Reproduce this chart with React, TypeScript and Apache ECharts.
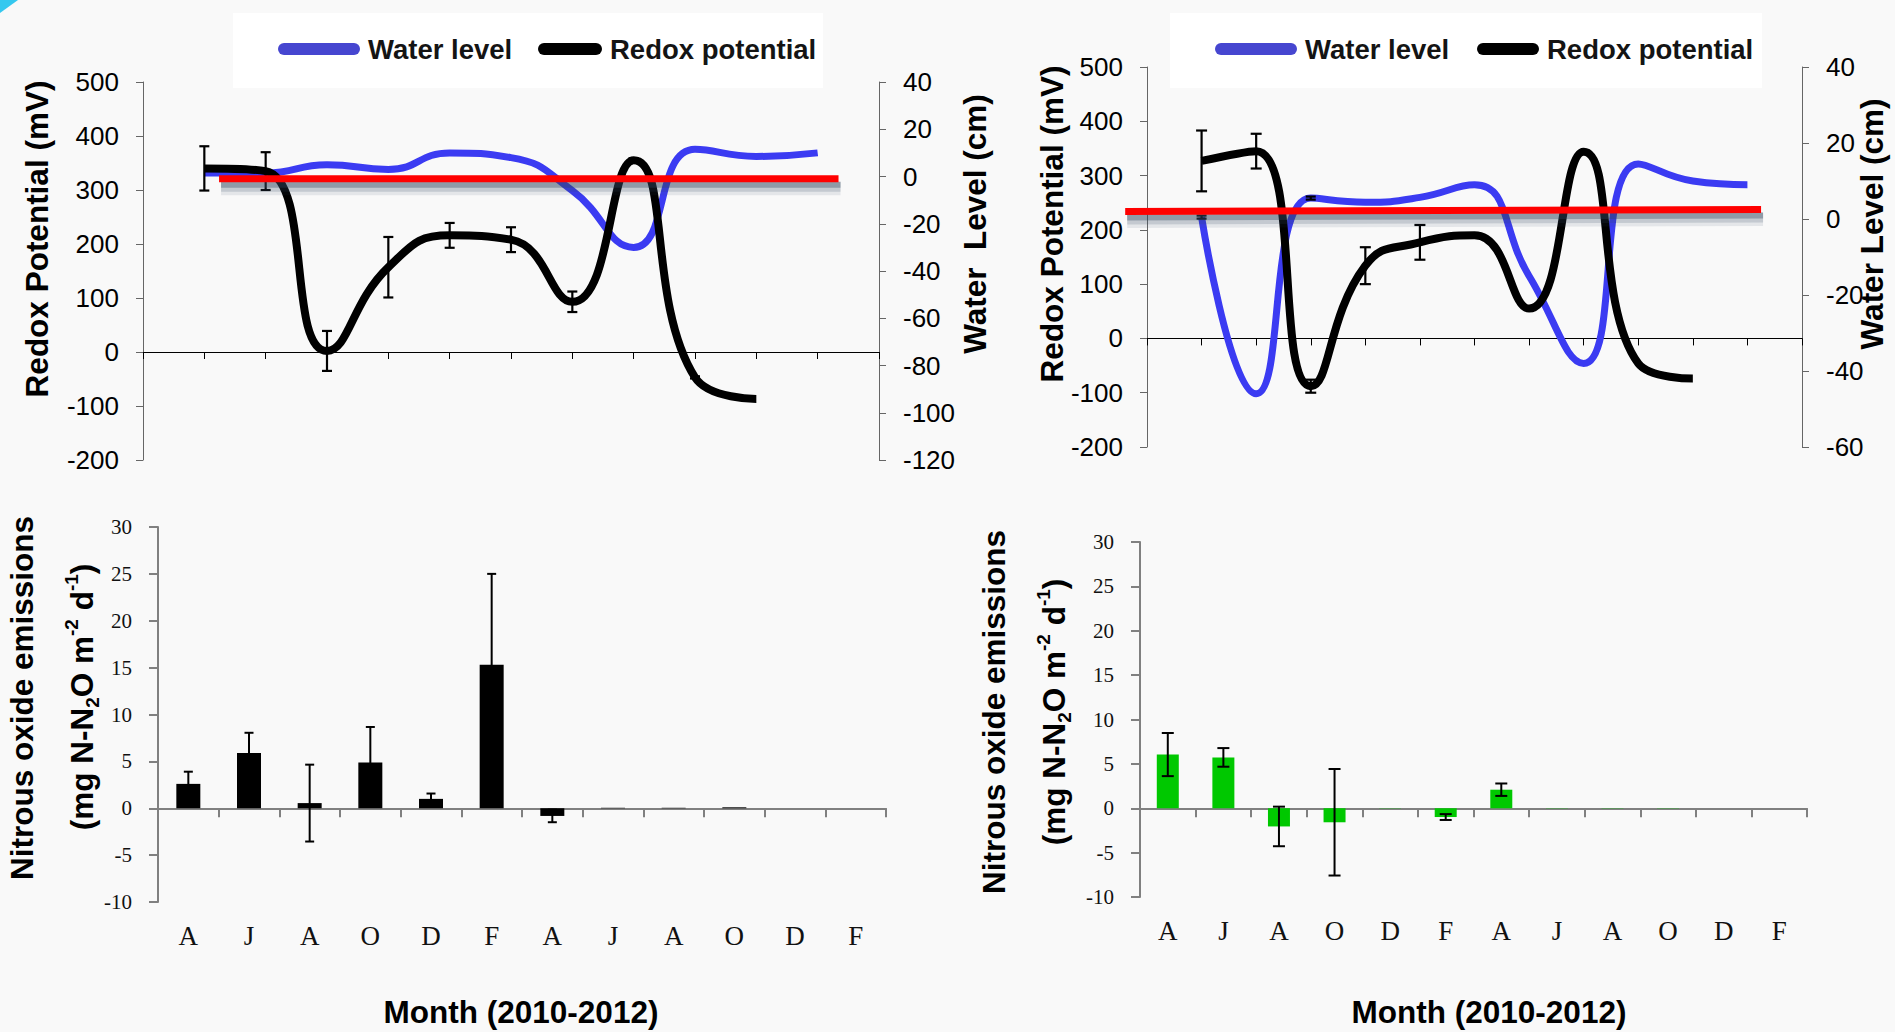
import React, { useEffect, useRef } from 'react';
import * as echarts from 'echarts';

// ---------- data ----------
const months = ['A', 'J', 'A', 'O', 'D', 'F', 'A', 'J', 'A', 'O', 'D', 'F'];

// top-left panel (positions 1..n on the month axis)
const redoxLeft = [340, 335, 2, 157, 216, 208, 93, 355, -47, -87];
const redoxLeftErr = [41, 35, 37, 56, 23, 23, 19, 4, 2, 0];
const waterLeft = [1.5, 1.5, 5, 3, 10, 8, -6, -30, 11.5, 8.5, 10];
const refLineLeft = [1.24, -1, 11.34, -1]; // x1, y1, x2, y2 (water level axis)

// top-right panel
const redoxRight = [327, 345, -88, 134, 177, 190, 55, 344, -46, -74];
const redoxRightErr = [56, 32, 12, 34, 32, 0, 0, 0, 0, 0];
const waterRight = [0.5, -46, 5.5, 4.4, 5.7, 9, -15, -38, 14.5, 10, 9];
const waterRightErr = [0.4, 0, 0.4, 0, 0, 0, 0, 0, 0, 0, 0];
const refLineRight = [-0.4, 2, 11.25, 2.5];

// bottom panels: nitrous oxide emissions
const n2oLeft = [2.6, 5.9, 0.55, 4.87, 1.0, 15.3, -0.82, 0.05, 0.05, 0.1, null, null];
const n2oLeftErr = [1.3, 2.15, 4.1, 3.8, 0.57, 9.7, 0.67, 0, 0, 0, 0, 0];
const n2oRight = [6.05, 5.73, -2.05, -1.58, 0.03, -0.99, 2.09, 0.03, 0.03, 0.03, null, null];
const n2oRightErr = [2.43, 1.05, 2.23, 6.0, 0, 0.33, 0.7, 0, 0, 0, 0, 0];

// ---------- helpers ----------
const SMOOTH = 0.5;
const toPoints = (vals: number[]) => vals.map((v, i) => [i + 1, v]);
const errPoints = (vals: (number | null)[], errs: number[], offset: number) =>
  vals
    .map((v, i) => (v == null || !errs[i] ? null : [i + offset, v - errs[i], v + errs[i]]))
    .filter((d) => d != null);

const errRender = (cap: number, width: number) => (params: any, api: any) => {
  const x = api.value(0);
  const top = api.coord([x, api.value(2)]);
  const bot = api.coord([x, api.value(1)]);
  const style = { stroke: '#000', lineWidth: width };
  return {
    type: 'group',
    children: [
      { type: 'line', shape: { x1: top[0], y1: top[1], x2: bot[0], y2: bot[1] }, style },
      { type: 'line', shape: { x1: top[0] - cap, y1: top[1], x2: top[0] + cap, y2: top[1] }, style },
      { type: 'line', shape: { x1: bot[0] - cap, y1: bot[1], x2: bot[0] + cap, y2: bot[1] }, style },
    ],
  };
};

// red reference line with a soft drop shadow underneath
const shadowLayers = [
  { dy: 10, w: 13, a: 0.1 },
  { dy: 8, w: 10, a: 0.18 },
  { dy: 6, w: 6, a: 0.36 },
];
const refRender = (params: any, api: any) => {
  const p1 = api.coord([api.value(0), api.value(1)]);
  const p2 = api.coord([api.value(2), api.value(3)]);
  const children: any[] = shadowLayers.map((s) => ({
    type: 'line',
    shape: { x1: p1[0] + 2, y1: p1[1] + s.dy, x2: p2[0] + 2, y2: p2[1] + s.dy },
    style: { stroke: `rgba(50,72,95,${s.a})`, lineWidth: s.w, lineCap: 'butt' },
  }));
  children.push({
    type: 'line',
    shape: { x1: p1[0], y1: p1[1], x2: p2[0], y2: p2[1] },
    style: { stroke: '#ff0000', lineWidth: 7, lineCap: 'butt' },
  });
  return { type: 'group', children };
};

const pill = (w: number, h: number) => {
  const r = h / 2;
  return `path://M${r} 0H${w - r}A${r} ${r} 0 0 1 ${w - r} ${h}H${r}A${r} ${r} 0 0 1 ${r} 0Z`;
};

const SANS = 'Liberation Sans, Arial, sans-serif';
const SERIF = 'Liberation Serif, Times New Roman, serif';

const topValueX = (gridIndex: number, zeroY: number) => ({
  type: 'value',
  gridIndex,
  min: 0,
  max: 12,
  interval: 1,
  axisLine: { show: true, onZero: true, onZeroAxisIndex: zeroY, lineStyle: { color: '#000', width: 1 } },
  axisTick: { show: true, length: 7, lineStyle: { color: '#000', width: 1 } },
  axisLabel: { show: false },
  splitLine: { show: false },
});

const topY = (gridIndex: number, min: number, max: number, interval: number, position: string) => ({
  type: 'value',
  gridIndex,
  min,
  max,
  interval,
  position,
  axisLine: { show: true, onZero: false, lineStyle: { color: '#666', width: 1 } },
  axisTick: { show: true, length: 7, lineStyle: { color: '#666', width: 1 } },
  axisLabel: { fontSize: 26, fontFamily: SANS, color: '#000', margin: 24 },
  splitLine: { show: false },
});

const catLineX = (gridIndex: number) => ({
  type: 'category',
  gridIndex,
  data: months,
  axisLine: { show: true, onZero: true, lineStyle: { color: '#808080', width: 2 } },
  axisTick: { show: true, length: 9, lineStyle: { color: '#808080', width: 2 } },
  axisLabel: { show: false },
  splitLine: { show: false },
});

const catLabelX = (gridIndex: number) => ({
  type: 'category',
  gridIndex,
  data: months,
  position: 'bottom',
  axisLine: { show: false, onZero: false },
  axisTick: { show: false },
  axisLabel: { fontSize: 27, fontFamily: SERIF, color: '#111', margin: 20 },
  splitLine: { show: false },
});

const barY = (gridIndex: number) => ({
  type: 'value',
  gridIndex,
  min: -10,
  max: 30,
  interval: 5,
  axisLine: { show: true, onZero: false, lineStyle: { color: '#808080', width: 2 } },
  axisTick: { show: true, length: 9, lineStyle: { color: '#808080', width: 2 } },
  axisLabel: { fontSize: 21, fontFamily: SERIF, color: '#111', margin: 26 },
  splitLine: { show: false },
});

const legendText = { fontSize: 27.5, fontWeight: 'bold', fontFamily: SANS, color: '#141414', padding: [0, 0, 0, 3] };
const legendItem = (name: string, color: string, left: number, w: number) => ({
  data: [{ name, itemStyle: { color, borderWidth: 0 } }],
  left,
  top: 35,
  padding: 0,
  itemWidth: w,
  itemHeight: 12,
  icon: pill(w, 12),
  selectedMode: false,
  textStyle: legendText,
});

const titleStyle = { fontSize: 31.5, fontWeight: 'bold', fontFamily: SANS, fill: '#000' };
const vTitle = (text: string, x: number, y: number) => ({
  type: 'text',
  x,
  y,
  rotation: Math.PI / 2,
  style: { ...titleStyle, text, align: 'center', verticalAlign: 'middle' },
});
const subSup = {
  sub: { fontSize: 19, fontWeight: 'bold', fontFamily: SANS, fill: '#000', lineHeight: 19, verticalAlign: 'bottom' },
  sup: { fontSize: 19, fontWeight: 'bold', fontFamily: SANS, fill: '#000', lineHeight: 19, verticalAlign: 'top' },
  n: { fontSize: 31.5, fontWeight: 'bold', fontFamily: SANS, fill: '#000', lineHeight: 40 },
};
const unitTitle = (x: number, y: number) => ({
  type: 'text',
  x,
  y,
  rotation: Math.PI / 2,
  style: {
    ...titleStyle,
    text: '{n|(mg N-N}{sub|2}{n|O m}{sup|-2}{n| d}{sup|-1}{n|)}',
    rich: subSup,
    align: 'center',
    verticalAlign: 'middle',
  },
});

const blue = '#3b3bf2';
const blueLegend = '#4646d0';

export default function App() {
  const ref = useRef<HTMLDivElement>(null);

  useEffect(() => {
    document.body.style.margin = '0';
    const chart = echarts.init(ref.current!, undefined, { renderer: 'svg' });

    const option: any = {
      animation: false,
      backgroundColor: '#f9f9f9',
      textStyle: { fontFamily: SANS },
      grid: [
        { left: 143, top: 82, width: 736, height: 378 },
        { left: 1147, top: 67, width: 655, height: 380 },
        { left: 158, top: 527, width: 728, height: 375 },
        { left: 1140, top: 542, width: 667, height: 355 },
      ],
      xAxis: [topValueX(0, 0), topValueX(1, 2), catLineX(2), catLabelX(2), catLineX(3), catLabelX(3)],
      yAxis: [
        topY(0, -200, 500, 100, 'left'),
        topY(0, -120, 40, 20, 'right'),
        topY(1, -200, 500, 100, 'left'),
        topY(1, -60, 40, 20, 'right'),
        barY(2),
        barY(3),
      ],
      legend: [
        legendItem('Water level', blueLegend, 278, 82),
        legendItem('Redox potential', '#000', 538, 64),
        legendItem('Water level', blueLegend, 1215, 82),
        legendItem('Redox potential', '#000', 1477, 62),
      ],
      graphic: [
        { type: 'rect', shape: { x: 233, y: 13, width: 590, height: 75 }, style: { fill: '#ffffff' }, z: -1 },
        { type: 'rect', shape: { x: 1170, y: 13, width: 592, height: 75 }, style: { fill: '#ffffff' }, z: -1 },
        { type: 'polygon', shape: { points: [[0, 0], [18, 0], [0, 13]] }, style: { fill: '#35c8ef' } },
        vTitle('Redox Potential (mV)', 37, 239),
        vTitle('Water  Level (cm)', 975, 224),
        vTitle('Redox Potential (mV)', 1052, 224),
        vTitle('Water Level (cm)', 1872, 224),
        vTitle('Nitrous oxide emissions', 22, 698),
        unitTitle(82, 697),
        vTitle('Nitrous oxide emissions', 994, 712),
        unitTitle(1054, 712),
        { type: 'text', x: 521, y: 1012, style: { ...titleStyle, text: 'Month (2010-2012)', align: 'center', verticalAlign: 'middle' } },
        { type: 'text', x: 1489, y: 1012, style: { ...titleStyle, text: 'Month (2010-2012)', align: 'center', verticalAlign: 'middle' } },
      ],
      series: [
        // top-left
        {
          name: 'Water level', type: 'line', xAxisIndex: 0, yAxisIndex: 1, data: toPoints(waterLeft),
          smooth: SMOOTH, symbol: 'none', lineStyle: { color: blue, width: 7 }, itemStyle: { color: blue }, z: 2,
        },
        {
          name: 'Redox potential', type: 'line', xAxisIndex: 0, yAxisIndex: 0, data: toPoints(redoxLeft),
          smooth: SMOOTH, symbol: 'none', lineStyle: { color: '#000', width: 8 }, itemStyle: { color: '#000' }, z: 3,
        },
        {
          type: 'custom', xAxisIndex: 0, yAxisIndex: 0, data: errPoints(redoxLeft, redoxLeftErr, 1),
          renderItem: errRender(5, 2.2), encode: { x: 0, y: [1, 2] }, z: 4, silent: true,
        },
        {
          type: 'custom', xAxisIndex: 0, yAxisIndex: 1, data: [refLineLeft], clip: false,
          renderItem: refRender, encode: { x: [0, 2], y: [1, 3] }, z: 5, silent: true,
        },
        // top-right
        {
          name: 'Water level', type: 'line', xAxisIndex: 1, yAxisIndex: 3, data: toPoints(waterRight),
          smooth: SMOOTH, symbol: 'none', lineStyle: { color: blue, width: 7 }, itemStyle: { color: blue }, z: 2,
        },
        {
          type: 'custom', xAxisIndex: 1, yAxisIndex: 3, data: errPoints(waterRight, waterRightErr, 1),
          renderItem: errRender(5, 2.2), encode: { x: 0, y: [1, 2] }, z: 4, silent: true,
        },
        {
          name: 'Redox potential', type: 'line', xAxisIndex: 1, yAxisIndex: 2, data: toPoints(redoxRight),
          smooth: SMOOTH, symbol: 'none', lineStyle: { color: '#000', width: 8 }, itemStyle: { color: '#000' }, z: 3,
        },
        {
          type: 'custom', xAxisIndex: 1, yAxisIndex: 2, data: errPoints(redoxRight, redoxRightErr, 1),
          renderItem: errRender(5.5, 2.2), encode: { x: 0, y: [1, 2] }, z: 4, silent: true,
        },
        {
          type: 'custom', xAxisIndex: 1, yAxisIndex: 3, data: [refLineRight], clip: false,
          renderItem: refRender, encode: { x: [0, 2], y: [1, 3] }, z: 5, silent: true,
        },
        // bottom-left
        {
          name: 'N2O left', type: 'bar', xAxisIndex: 2, yAxisIndex: 4, data: n2oLeft, barWidth: 24,
          itemStyle: { color: '#000' }, z: 2,
        },
        {
          type: 'custom', xAxisIndex: 2, yAxisIndex: 4, data: errPoints(n2oLeft, n2oLeftErr, 0),
          renderItem: errRender(4.5, 2), encode: { x: 0, y: [1, 2] }, z: 4, silent: true,
        },
        // bottom-right
        {
          name: 'N2O right', type: 'bar', xAxisIndex: 4, yAxisIndex: 5, data: n2oRight, barWidth: 22,
          itemStyle: { color: '#00c800' }, z: 2,
        },
        {
          type: 'custom', xAxisIndex: 4, yAxisIndex: 5, data: errPoints(n2oRight, n2oRightErr, 0),
          renderItem: errRender(6, 2), encode: { x: 0, y: [1, 2] }, z: 4, silent: true,
        },
      ],
    };

    chart.setOption(option);
    return () => chart.dispose();
  }, []);

  return (
    <div
      ref={ref}
      style={{ position: 'absolute', left: 0, top: 0, width: 1895, height: 1032, background: '#f9f9f9' }}
    />
  );
}
